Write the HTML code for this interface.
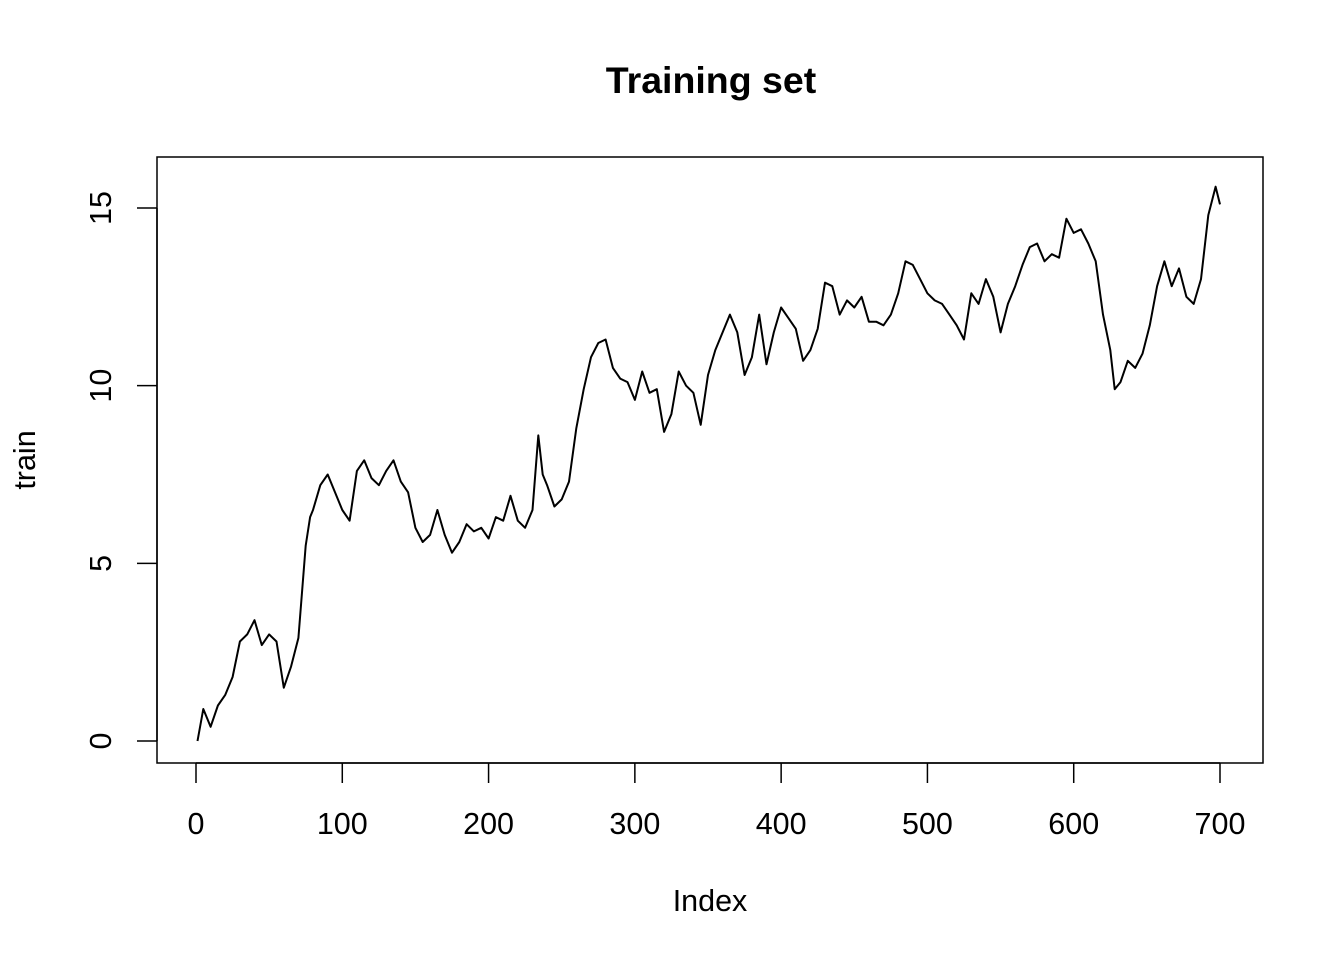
<!DOCTYPE html>
<html><head><meta charset="utf-8"><style>body{margin:0;background:#fff}svg{display:block}text{font-family:"Liberation Sans",Arial,sans-serif;fill:#000}</style></head>
<body>
<svg width="1344" height="960" xmlns="http://www.w3.org/2000/svg">
<text x="711" y="93" font-size="37.5" font-weight="bold" text-anchor="middle">Training set</text>
<rect x="157" y="157" width="1106" height="606" fill="none" stroke="#000" stroke-width="1.5"/>
<g id="xaxis"></g>
<g id="yaxis"></g>
<text x="710" y="911" font-size="30.5" text-anchor="middle">Index</text>
<text transform="translate(35,460) rotate(-90)" font-size="30.5" text-anchor="middle">train</text>
<path id="series" fill="none" stroke="#000" stroke-width="2" stroke-linejoin="round"/>
</svg>
<script>
const xTicks=[0,100,200,300,400,500,600,700];
const yTicks=[0,5,10,15];
const idx=[1,5,10,15,20,25,30,35,40,45,50,55,60,65,70,75,78,80,85,90,95,100,105,110,115,120,125,130,135,140,145,150,155,160,165,170,175,180,185,190,195,200,205,210,215,220,225,230,234,237,240,245,250,255,260,265,270,275,280,285,290,295,300,305,310,315,320,325,330,335,340,345,350,355,360,365,370,375,380,385,390,395,400,405,410,415,420,425,430,435,440,445,450,455,460,465,470,475,480,485,490,495,500,505,510,515,520,525,530,535,540,545,550,555,560,565,570,575,580,585,590,595,600,605,610,615,620,625,628,632,637,642,647,652,657,662,667,672,677,682,687,692,697,700];
const vals=[0.0,0.9,0.4,1.0,1.3,1.8,2.8,3.0,3.4,2.7,3.0,2.8,1.5,2.1,2.9,5.5,6.3,6.5,7.2,7.5,7.0,6.5,6.2,7.6,7.9,7.4,7.2,7.6,7.9,7.3,7.0,6.0,5.6,5.8,6.5,5.8,5.3,5.6,6.1,5.9,6.0,5.7,6.3,6.2,6.9,6.2,6.0,6.5,8.6,7.5,7.2,6.6,6.8,7.3,8.8,9.9,10.8,11.2,11.3,10.5,10.2,10.1,9.6,10.4,9.8,9.9,8.7,9.2,10.4,10.0,9.8,8.9,10.3,11.0,11.5,12.0,11.5,10.3,10.8,12.0,10.6,11.5,12.2,11.9,11.6,10.7,11.0,11.6,12.9,12.8,12.0,12.4,12.2,12.5,11.8,11.8,11.7,12.0,12.6,13.5,13.4,13.0,12.6,12.4,12.3,12.0,11.7,11.3,12.6,12.3,13.0,12.5,11.5,12.3,12.8,13.4,13.9,14.0,13.5,13.7,13.6,14.7,14.3,14.4,14.0,13.5,12.0,11.0,9.9,10.1,10.7,10.5,10.9,11.7,12.8,13.5,12.8,13.3,12.5,12.3,13.0,14.8,15.6,15.1];
const NS='http://www.w3.org/2000/svg';
const sx=v=>196+v*1024/700;
const sy=v=>741-v*533/15;
const xa=document.getElementById('xaxis');
function mk(t,a){const e=document.createElementNS(NS,t);for(const k in a)e.setAttribute(k,a[k]);return e;}
xa.appendChild(mk('line',{x1:sx(0),x2:sx(700),y1:763,y2:763,stroke:'#000','stroke-width':1.5}));
xTicks.forEach(t=>{
 const l=mk('line',{x1:sx(t),x2:sx(t),y1:763,y2:783,stroke:'#000','stroke-width':1.5});
 
 
 xa.appendChild(l);
 const tx=mk('text',{x:sx(t),y:834,'font-size':30.5,'text-anchor':'middle'});
 
 
 tx.textContent=t;xa.appendChild(tx);
});
const ya=document.getElementById('yaxis');
ya.appendChild(mk('line',{x1:157,x2:157,y1:sy(0),y2:sy(15),stroke:'#000','stroke-width':1.5}));
yTicks.forEach(t=>{
 const l=mk('line',{x1:137,x2:157,y1:sy(t),y2:sy(t),stroke:'#000','stroke-width':1.5});
 
 
 ya.appendChild(l);
 const tx=mk('text',{transform:`translate(111,${sy(t)}) rotate(-90)`,'font-size':30.5,'text-anchor':'middle'});
 
 
 tx.textContent=t;ya.appendChild(tx);
});
document.getElementById('series').setAttribute('d',idx.map((i,k)=>(k?'L':'M')+sx(i).toFixed(1)+','+sy(vals[k]).toFixed(1)).join(''));
</script>
</body></html>
